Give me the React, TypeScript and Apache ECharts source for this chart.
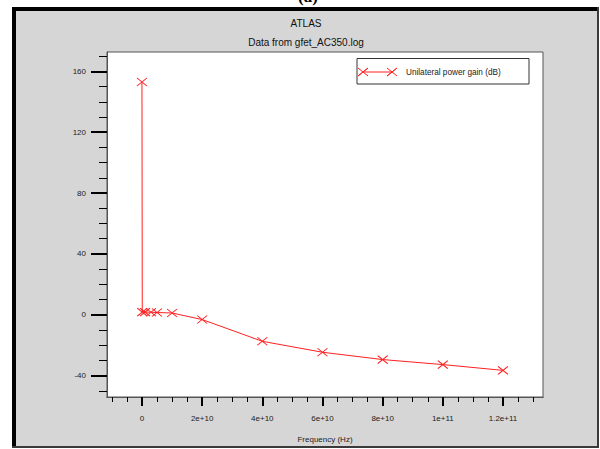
import React, { useEffect, useRef } from "react";
import * as echarts from "echarts";

const seriesName = "Unilateral power gain (dB)";
const frequencyHz = [1e6, 1e8, 1e9, 3e9, 5e9, 1e10, 2e10, 4e10, 6e10, 8e10, 1e11, 1.2e11];
const gainDb = [153, 1.8, 1.8, 1.7, 1.5, 1.2, -3.1, -17.4, -24.6, -29.4, -32.7, -36.5];
const xMajorTicks = [0, 2e10, 4e10, 6e10, 8e10, 1e11, 1.2e11];
const xTickLabels = ["0", "2e+10", "4e+10", "6e+10", "8e+10", "1e+11", "1.2e+11"];
const xMinorTicks = [-1e10, -5e9, 0, 5e9, 1e10, 1.5e10, 2e10, 2.5e10, 3e10, 3.5e10, 4e10, 4.5e10, 5e10, 5.5e10, 6e10, 6.5e10, 7e10, 7.5e10, 8e10, 8.5e10, 9e10, 9.5e10, 1e11, 1.05e11, 1.1e11, 1.15e11, 1.2e11, 1.25e11, 1.3e11];
const yMajorTicks = [-40, 0, 40, 80, 120, 160];
const yMinorTicks = [-50, -40, -30, -20, -10, 0, 10, 20, 30, 40, 50, 60, 70, 80, 90, 100, 110, 120, 130, 140, 150, 160, 170];

const X_MIN = -1.162e10;
const X_MAX = 1.333e11;
const Y_MIN = -54.0;
const Y_MAX = 172.7;

export default function App() {
  const ref = useRef<HTMLDivElement>(null);
  useEffect(() => {
    document.body.style.margin = "0";
    const chart = echarts.init(ref.current!, null, { renderer: "svg" });
    const font = "Liberation Sans, Arial, sans-serif";
    const red = "#ff2020";
    const cross = (cx: number, cy: number) => ({
      type: "polyline",
      shape: { points: [[cx - 5, cy - 4], [cx, cy], [cx - 5, cy + 4], [cx, cy], [cx + 5, cy - 4], [cx, cy], [cx + 5, cy + 4]] },
      style: { stroke: red, fill: null, lineWidth: 1 },
      z: 20,
    });
    const data = frequencyHz.map((f, i) => [f, gainDb[i]]);
    const axisLine = { show: true, onZero: false, lineStyle: { color: "#555555", width: 1 } };
    chart.setOption({
      animation: false,
      backgroundColor: "#ffffff",
      grid: {
        left: 107,
        top: 52,
        width: 436,
        height: 345,
        containLabel: false,
        outerBoundsMode: "none",
        show: true,
        backgroundColor: "#ffffff",
        borderColor: "#555555",
        borderWidth: 1,
      },
      xAxis: [
        {
          type: "value",
          min: X_MIN,
          max: X_MAX,
          position: "bottom",
          axisLine,
          splitLine: { show: false },
          axisTick: { show: true, inside: false, customValues: xMajorTicks, length: 9, lineStyle: { color: "#000", width: 2 } },
          axisLabel: {
            customValues: xMajorTicks,
            margin: 17,
            fontSize: 8,
            fontFamily: font,
            color: "#222",
            formatter: (v: number) => {
              const i = xMajorTicks.indexOf(v);
              return i >= 0 ? xTickLabels[i] : "";
            },
          },
          name: "Frequency (Hz)",
          nameLocation: "middle",
          nameGap: 38,
          nameTextStyle: { fontSize: 8, fontFamily: font, color: "#222" },
        },
        {
          type: "value",
          min: X_MIN,
          max: X_MAX,
          position: "bottom",
          axisLine,
          splitLine: { show: false },
          axisTick: { show: true, inside: false, customValues: xMinorTicks, length: 5, lineStyle: { color: "#000", width: 1 } },
          axisLabel: { show: true, customValues: xMinorTicks, formatter: () => "" },
        },
      ],
      yAxis: [
        {
          type: "value",
          min: Y_MIN,
          max: Y_MAX,
          position: "left",
          axisLine,
          splitLine: { show: false },
          axisTick: { show: true, inside: false, customValues: yMajorTicks, length: 16, lineStyle: { color: "#000", width: 2 } },
          axisLabel: {
            customValues: yMajorTicks,
            margin: 21,
            fontSize: 8,
            fontFamily: font,
            color: "#222",
          },
        },
        {
          type: "value",
          min: Y_MIN,
          max: Y_MAX,
          position: "left",
          axisLine,
          splitLine: { show: false },
          axisTick: { show: true, inside: false, customValues: yMinorTicks, length: 8, lineStyle: { color: "#000", width: 1 } },
          axisLabel: { show: true, customValues: yMinorTicks, formatter: () => "" },
        },
      ],
      series: [
        {
          name: seriesName,
          type: "line",
          xAxisIndex: 0,
          yAxisIndex: 0,
          data,
          z: 10,
          symbol: "path://M0,0L10,8M0,8L10,0",
          symbolSize: [10, 8],
          showSymbol: true,
          lineStyle: { color: red, width: 1 },
          itemStyle: { color: "none", borderColor: red, borderWidth: 1 },
        },
      ],
      graphic: [
        { type: "rect", shape: { x: 12, y: 7, width: 587, height: 441 }, style: { fill: "#d6d6d6" }, z: -10, silent: true },
        { type: "rect", shape: { x: 12, y: 7, width: 587, height: 4 }, style: { fill: "#000" }, z: -9 },
        { type: "rect", shape: { x: 12, y: 7, width: 4, height: 441 }, style: { fill: "#000" }, z: -9 },
        { type: "rect", shape: { x: 597, y: 7, width: 2, height: 441 }, style: { fill: "#3a3a3a" }, z: -9 },
        { type: "rect", shape: { x: 12, y: 446, width: 587, height: 2 }, style: { fill: "#3a3a3a" }, z: -9 },
        {
          type: "text",
          x: 308,
          y: 5,
          style: { text: "(a)", fontSize: 17, fontWeight: "bold", fontFamily: "Liberation Serif, serif", fill: "#000", align: "center", verticalAlign: "bottom" },
          z: 5,
        },
        {
          type: "text",
          x: 306,
          y: 23,
          style: { text: "ATLAS", fontSize: 10, fontFamily: font, fill: "#111", align: "center", verticalAlign: "middle" },
          z: 5,
        },
        {
          type: "text",
          x: 306,
          y: 42,
          style: { text: "Data from gfet_AC350.log", fontSize: 10, fontFamily: font, fill: "#111", align: "center", verticalAlign: "middle" },
          z: 5,
        },
        { type: "rect", shape: { x: 357, y: 58.5, width: 172, height: 25.5 }, style: { fill: "#fff", stroke: "#333", lineWidth: 1 }, z: 15 },
        { type: "line", shape: { x1: 363, y1: 72, x2: 392, y2: 72 }, style: { stroke: red, lineWidth: 1 }, z: 20 },
        cross(363, 72),
        cross(392, 72),
        {
          type: "text",
          x: 406,
          y: 72.5,
          style: { text: seriesName, fontSize: 8.2, fontFamily: font, fill: "#222", align: "left", verticalAlign: "middle" },
          z: 20,
        },
      ],
    });
    return () => chart.dispose();
  }, []);
  return <div ref={ref} style={{ position: "absolute", left: 0, top: 0, width: 600, height: 449 }} />;
}
